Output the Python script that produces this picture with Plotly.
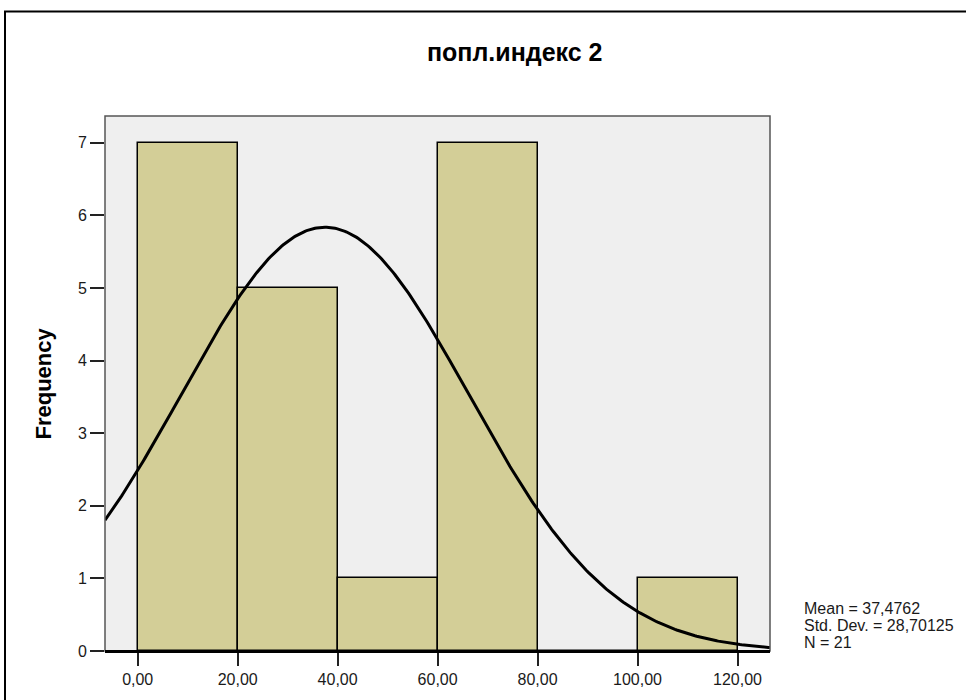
import numpy as np
import plotly.graph_objects as go

# Histogram bins of "попл.индекс 2"
bin_left = [0, 20, 40, 60, 80, 100]
bin_width = 20
frequency = [7, 5, 1, 7, 0, 1]

# Summary statistics shown next to the chart
mean_val = 37.4762
std_val = 28.70125
n_val = 21

x_tick_vals = [0, 20, 40, 60, 80, 100, 120]
x_tick_text = ["0,00", "20,00", "40,00", "60,00", "80,00", "100,00", "120,00"]
y_tick_vals = [0, 1, 2, 3, 4, 5, 6, 7]

W, H = 966, 700
ML, MR, MT, MB = 105, 196, 116, 46
PW, PH = W - ML - MR, H - MT - MB

X_RANGE = [-6.54, 126.5]
Y_RANGE = [0, 7.37]


def px_to_paper_x(px):
    return (px - ML) / PW


def px_to_paper_y(py):
    return (H - MB - py) / PH


FONT = "Liberation Sans, Arial, sans-serif"

bar_centers = [b + bin_width / 2 for b in bin_left]

# Normal curve scaled to counts: N * bin width * pdf
xs = np.linspace(X_RANGE[0], X_RANGE[1], 400)
ys = n_val * bin_width * np.exp(-0.5 * ((xs - mean_val) / std_val) ** 2) / (std_val * np.sqrt(2 * np.pi))

fig = go.Figure()
fig.add_trace(go.Bar(
    x=bar_centers, y=frequency, width=bin_width,
    marker=dict(color="#D3CE97", line=dict(color="#000000", width=1.5)),
    hoverinfo="skip",
))
fig.add_trace(go.Scatter(
    x=xs, y=ys, mode="lines",
    line=dict(color="#000000", width=3),
    hoverinfo="skip",
))

fig.update_layout(
    width=W, height=H,
    margin=dict(l=ML, r=MR, t=MT, b=MB, pad=0),
    paper_bgcolor="#FFFFFF",
    plot_bgcolor="#EFEFEF",
    showlegend=False,
    bargap=0,
    font=dict(family=FONT, color="#1a1a1a", size=16),
)

fig.update_xaxes(
    range=X_RANGE, tickvals=x_tick_vals, ticktext=x_tick_text,
    ticks="outside", ticklen=13, tickwidth=1.5, tickcolor="#222222",
    showgrid=False, zeroline=False,
    showline=True, linecolor="#000000", linewidth=2,
    tickfont=dict(size=16, family=FONT, color="#1a1a1a"),
)
fig.update_yaxes(
    range=Y_RANGE, tickvals=y_tick_vals,
    ticks="outside", ticklen=14, tickwidth=1.5, tickcolor="#222222",
    showgrid=False, zeroline=False,
    showline=False,
    tickfont=dict(size=16, family=FONT, color="#1a1a1a"),
)

shapes = [
    # plot frame
    dict(type="rect", xref="paper", yref="paper", x0=0, y0=0, x1=1, y1=1,
         line=dict(color="#555555", width=1.5), layer="above"),
    # bottom axis line drawn darker
    dict(type="line", xref="paper", yref="paper", x0=0, y0=0, x1=1, y1=0,
         line=dict(color="#000000", width=2), layer="above"),
    # outer chart border
    dict(type="rect", xref="paper", yref="paper",
         x0=px_to_paper_x(5), y0=px_to_paper_y(730),
         x1=px_to_paper_x(1000), y1=px_to_paper_y(11),
         line=dict(color="#000000", width=2)),
]
fig.update_layout(shapes=shapes)

annotations = [
    dict(text="<b>попл.индекс 2</b>", xref="paper", yref="paper",
         x=px_to_paper_x(514), y=px_to_paper_y(52), xanchor="center", yanchor="middle",
         showarrow=False, font=dict(size=25, family=FONT, color="#000000")),
    dict(text="<b>Frequency</b>", xref="paper", yref="paper",
         x=px_to_paper_x(43), y=0.5, xanchor="center", yanchor="middle",
         textangle=-90, showarrow=False, font=dict(size=22, family=FONT, color="#000000")),
]
stats_lines = [
    (f"Mean = {mean_val:.4f}".replace(".", ","), 611),
    (f"Std. Dev. = {std_val:.5f}".replace("28.", "28,"), 628),
    (f"N = {n_val}", 645),
]
for txt, py in stats_lines:
    annotations.append(dict(
        text=txt, xref="paper", yref="paper",
        x=px_to_paper_x(802), y=px_to_paper_y(py), xanchor="left", yanchor="middle",
        showarrow=False, font=dict(size=16, family=FONT, color="#1a1a1a")))
fig.update_layout(annotations=annotations)

fig.write_html("out.html")
